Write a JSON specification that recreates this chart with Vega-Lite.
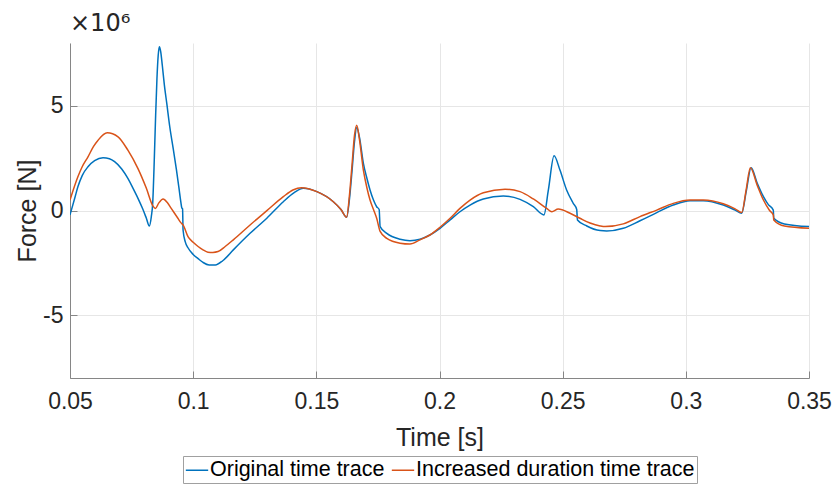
{
  "$schema": "https://vega.github.io/schema/vega-lite/v6.json",
  "width": 739,
  "height": 335,
  "autosize": "none",
  "padding": {"left": 70, "top": 43, "right": 26, "bottom": 108},
  "background": "white",
  "title": {"text": "×10⁶", "anchor": "start", "frame": "group", "offset": 7},
  "datasets": {
    "orig": [
      {"t":0.0500,"f":-0.21},{"t":0.0520,"f":0.62},{"t":0.0532,"f":1.13},{"t":0.0550,"f":1.68},{"t":0.0573,"f":2.09},{"t":0.0600,"f":2.38},{"t":0.0634,"f":2.52},{"t":0.0660,"f":2.47},{"t":0.0681,"f":2.33},{"t":0.0710,"f":1.98},{"t":0.0735,"f":1.53},{"t":0.0755,"f":1.08},{"t":0.0776,"f":0.58},{"t":0.0795,"f":0.08},{"t":0.0810,"f":-0.37},{"t":0.0822,"f":-0.74},{"t":0.0830,"f":-0.3},{"t":0.0836,"f":0.4},{"t":0.0841,"f":2.0},{"t":0.0847,"f":4.3},{"t":0.0853,"f":6.3},{"t":0.0858,"f":7.4},{"t":0.0863,"f":7.82},{"t":0.0868,"f":7.6},{"t":0.0875,"f":6.9},{"t":0.0883,"f":6.0},{"t":0.0893,"f":5.1},{"t":0.0905,"f":4.0},{"t":0.0919,"f":2.95},{"t":0.0932,"f":1.95},{"t":0.0942,"f":1.1},{"t":0.0950,"f":0.4},{"t":0.0954,"f":0.12},{"t":0.0957,"f":0.08},{"t":0.0959,"f":-0.93},{"t":0.0968,"f":-1.5},{"t":0.0979,"f":-1.78},{"t":0.1000,"f":-2.1},{"t":0.1020,"f":-2.3},{"t":0.1040,"f":-2.48},{"t":0.1065,"f":-2.6},{"t":0.1090,"f":-2.6},{"t":0.1120,"f":-2.4},{"t":0.1163,"f":-1.88},{"t":0.1231,"f":-1.09},{"t":0.1299,"f":-0.37},{"t":0.1366,"f":0.42},{"t":0.1410,"f":0.85},{"t":0.1447,"f":1.06},{"t":0.1502,"f":0.9},{"t":0.1569,"f":0.42},{"t":0.1600,"f":0.05},{"t":0.1623,"f":-0.32},{"t":0.1635,"f":0.6},{"t":0.1645,"f":1.9},{"t":0.1655,"f":3.3},{"t":0.1664,"f":3.96},{"t":0.1675,"f":3.5},{"t":0.1691,"f":2.25},{"t":0.1705,"f":1.55},{"t":0.1718,"f":0.98},{"t":0.1732,"f":0.5},{"t":0.1745,"f":0.18},{"t":0.1755,"f":0.05},{"t":0.1759,"f":-0.77},{"t":0.1786,"f":-1.09},{"t":0.1840,"f":-1.37},{"t":0.1880,"f":-1.44},{"t":0.1921,"f":-1.37},{"t":0.1961,"f":-1.17},{"t":0.2002,"f":-0.85},{"t":0.2043,"f":-0.45},{"t":0.2083,"f":-0.06},{"t":0.2124,"f":0.26},{"t":0.2178,"f":0.55},{"t":0.2259,"f":0.69},{"t":0.2327,"f":0.53},{"t":0.2381,"f":0.18},{"t":0.2424,"f":-0.21},{"t":0.2442,"f":0.98},{"t":0.2465,"f":2.61},{"t":0.2489,"f":1.93},{"t":0.2516,"f":0.98},{"t":0.2543,"f":0.34},{"t":0.2557,"f":0.05},{"t":0.2560,"f":-0.45},{"t":0.2598,"f":-0.74},{"t":0.2652,"f":-0.96},{"t":0.2679,"f":-0.98},{"t":0.2746,"f":-0.85},{"t":0.2814,"f":-0.49},{"t":0.2882,"f":-0.1},{"t":0.2949,"f":0.26},{"t":0.3017,"f":0.47},{"t":0.3071,"f":0.47},{"t":0.3152,"f":0.26},{"t":0.3200,"f":0.02},{"t":0.3227,"f":-0.13},{"t":0.3245,"f":0.9},{"t":0.3265,"f":2.04},{"t":0.3290,"f":1.3},{"t":0.3315,"f":0.66},{"t":0.3335,"f":0.28},{"t":0.3355,"f":0.02},{"t":0.3357,"f":-0.37},{"t":0.3400,"f":-0.64},{"t":0.3500,"f":-0.77}
    ],
    "incr": [
      {"t":0.0500,"f":0.5},{"t":0.0532,"f":1.61},{"t":0.0550,"f":2.1},{"t":0.0573,"f":2.56},{"t":0.0595,"f":3.05},{"t":0.0614,"f":3.36},{"t":0.0651,"f":3.71},{"t":0.0695,"f":3.52},{"t":0.0735,"f":2.88},{"t":0.0776,"f":2.0},{"t":0.0810,"f":1.06},{"t":0.0837,"f":0.21},{"t":0.0847,"f":0.1},{"t":0.0860,"f":0.35},{"t":0.0878,"f":0.55},{"t":0.0895,"f":0.38},{"t":0.0911,"f":0.1},{"t":0.0938,"f":-0.37},{"t":0.0950,"f":-0.58},{"t":0.0959,"f":-0.69},{"t":0.0979,"f":-1.25},{"t":0.1000,"f":-1.52},{"t":0.1020,"f":-1.72},{"t":0.1040,"f":-1.88},{"t":0.1060,"f":-1.99},{"t":0.1080,"f":-2.0},{"t":0.1101,"f":-1.96},{"t":0.1130,"f":-1.72},{"t":0.1163,"f":-1.4},{"t":0.1231,"f":-0.69},{"t":0.1298,"f":-0.02},{"t":0.1366,"f":0.66},{"t":0.1405,"f":0.98},{"t":0.1440,"f":1.09},{"t":0.1502,"f":0.9},{"t":0.1569,"f":0.42},{"t":0.1600,"f":0.05},{"t":0.1623,"f":-0.32},{"t":0.1635,"f":0.8},{"t":0.1645,"f":2.2},{"t":0.1655,"f":3.6},{"t":0.1664,"f":4.07},{"t":0.1675,"f":3.4},{"t":0.1691,"f":1.93},{"t":0.1705,"f":1.1},{"t":0.1718,"f":0.5},{"t":0.1732,"f":0.05},{"t":0.1745,"f":-0.37},{"t":0.1759,"f":-1.0},{"t":0.1786,"f":-1.33},{"t":0.1840,"f":-1.56},{"t":0.1880,"f":-1.6},{"t":0.1921,"f":-1.4},{"t":0.1961,"f":-1.17},{"t":0.2002,"f":-0.8},{"t":0.2043,"f":-0.37},{"t":0.2083,"f":0.1},{"t":0.2124,"f":0.5},{"t":0.2178,"f":0.85},{"t":0.2266,"f":1.02},{"t":0.2327,"f":0.9},{"t":0.2381,"f":0.55},{"t":0.2435,"f":0.1},{"t":0.2456,"f":-0.06},{"t":0.2482,"f":0.07},{"t":0.2530,"f":-0.13},{"t":0.2570,"f":-0.37},{"t":0.2611,"f":-0.6},{"t":0.2652,"f":-0.74},{"t":0.2672,"f":-0.77},{"t":0.2746,"f":-0.64},{"t":0.2814,"f":-0.29},{"t":0.2882,"f":0.02},{"t":0.2949,"f":0.34},{"t":0.3017,"f":0.5},{"t":0.3071,"f":0.5},{"t":0.3152,"f":0.32},{"t":0.3200,"f":0.08},{"t":0.3227,"f":-0.1},{"t":0.3245,"f":1.0},{"t":0.3262,"f":2.04},{"t":0.3290,"f":1.2},{"t":0.3315,"f":0.5},{"t":0.3340,"f":0.0},{"t":0.3355,"f":-0.21},{"t":0.3357,"f":-0.45},{"t":0.3400,"f":-0.74},{"t":0.3500,"f":-0.85}
    ]
  },
  "layer": [
    {
      "data": {"name": "orig"},
      "transform": [{"calculate": "'Original time trace'", "as": "s"}],
      "mark": {"type": "line", "strokeWidth": 1.5, "clip": true, "interpolate": "monotone"}
    },
    {
      "data": {"name": "incr"},
      "transform": [{"calculate": "'Increased duration time trace'", "as": "s"}],
      "mark": {"type": "line", "strokeWidth": 1.5, "clip": true, "interpolate": "monotone"}
    }
  ],
  "encoding": {
    "x": {"field": "t", "type": "quantitative",
      "scale": {"domain": [0.05, 0.35], "nice": false, "zero": false},
      "axis": {"title": "Time [s]", "values": [0.05, 0.1, 0.15, 0.2, 0.25, 0.3, 0.35], "format": "~g", "labelFlush": false, "labelPadding": 19, "titlePadding": 12}},
    "y": {"field": "f", "type": "quantitative",
      "scale": {"domain": [-8, 8], "nice": false},
      "axis": {"title": "Force [N]", "values": [-5, 0, 5], "labelExpr": "replace(datum.label, '−', '-')", "labelPadding": 14, "titlePadding": 2}},
    "color": {"field": "s", "type": "nominal",
      "scale": {"domain": ["Original time trace", "Increased duration time trace"], "range": ["#0072BD", "#D95319"]},
      "legend": {"title": null, "orient": "none", "legendX": 113, "legendY": 413, "direction": "horizontal", "symbolType": "stroke", "symbolSize": 500, "symbolStrokeWidth": 1.5, "labelFontSize": 21.5, "labelFont": "Liberation Sans", "labelColor": "#000000", "labelLimit": 500, "strokeColor": "#a0a0a0", "fillColor": "white", "padding": 2, "columnPadding": 3, "labelOffset": 1}}
  },
  "config": {
    "view": {"stroke": null},
    "title": {"font": "DejaVu Sans", "fontSize": 24, "fontWeight": "normal", "color": "#262626"},
    "axis": {
      "labelFont": "Liberation Sans", "titleFont": "Liberation Sans",
      "labelFontSize": 23, "titleFontSize": 25, "titleFontWeight": "normal",
      "labelColor": "#262626", "titleColor": "#262626",
      "domainColor": "#868686", "domainWidth": 1,
      "tickColor": "#868686", "tickSize": -7, "tickWidth": 1,
      "gridColor": "#e6e6e6", "gridWidth": 1
    }
  }
}
